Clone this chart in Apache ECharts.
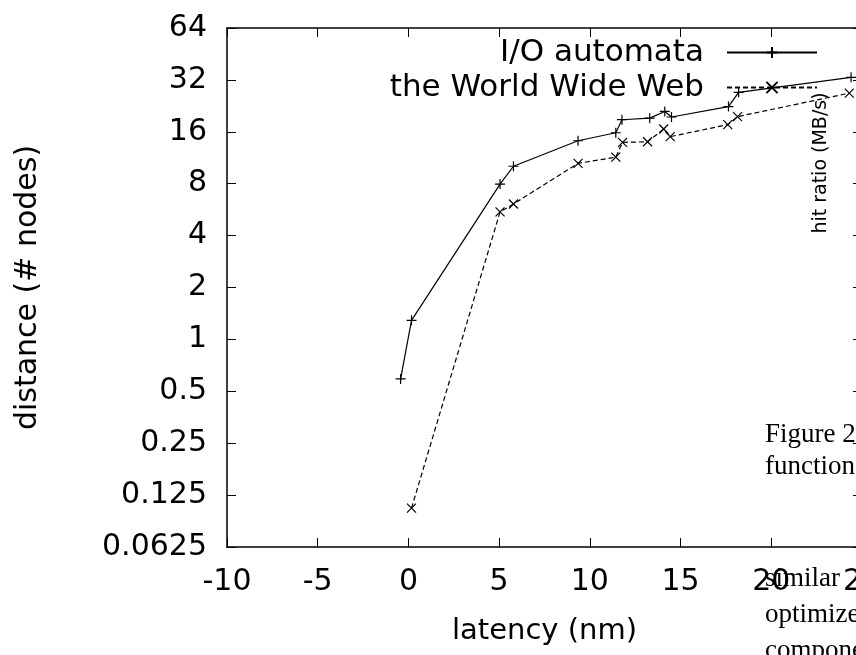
<!DOCTYPE html>
<html>
<head>
<meta charset="utf-8">
<script src="https://cdn.jsdelivr.net/npm/echarts@6/dist/echarts.min.js"></script>
<style>
  html, body { margin: 0; padding: 0; background: #fff; }
  #chart { width: 856px; height: 655px; }
</style>
</head>
<body>
<div id="chart"></div>
<script>
  // data (x = latency, y = distance)
  const seriesNames = ['I/O automata', 'the World Wide Web']
  const xIO = [-0.43, 0.17, 5.05, 5.79, 9.35, 11.43, 11.77, 13.3, 14.13, 14.5, 17.64, 18.2, 24.4]
  const yIO = [0.59, 1.29, 7.96, 10.1, 14.2, 15.8, 18.8, 19.2, 21.0, 19.5, 22.4, 27.1, 33.1]
  const xWWW = [0.17, 5.05, 5.79, 9.35, 11.43, 11.8, 13.18, 14.07, 14.43, 17.6, 18.14, 24.3]
  const yWWW = [0.105, 5.49, 6.1, 10.5, 11.4, 13.9, 14.0, 16.6, 15.0, 17.6, 19.6, 26.8]
  const xTicks = [-10, -5, 0, 5, 10, 15, 20, 25]
  const yTicks = [0.0625, 0.125, 0.25, 0.5, 1, 2, 4, 8, 16, 32, 64]

  const sans = 'DejaVu Sans'
  const plusPath = 'path://M5,0L5,10M0,5L10,5'
  const crossPath = 'path://M0,0L10,10M10,0L0,10'

  const pairs = (xs, ys) => xs.map((x, i) => [x, ys[i]])

  const xBase = {
    type: 'value',
    min: xTicks[0],
    max: xTicks[xTicks.length - 1],
    interval: 5,
    axisLine: { onZero: false, lineStyle: { color: '#000', width: 1.5 } },
    axisTick: { inside: true, length: 9, lineStyle: { color: '#000' } },
    splitLine: { show: false }
  }
  const yBase = {
    type: 'log',
    logBase: 2,
    min: yTicks[0],
    max: yTicks[yTicks.length - 1],
    interval: 1,
    axisLine: { onZero: false, lineStyle: { color: '#000', width: 1.5 } },
    axisTick: { inside: true, length: 9, lineStyle: { color: '#000' } },
    splitLine: { show: false }
  }

  const myChart = echarts.init(document.getElementById('chart'))
  myChart.setOption({
    animation: false,
    backgroundColor: '#fff',
    grid: { left: 227, top: 28, width: 635, height: 519, containLabel: false, outerBoundsMode: 'none' },
    legend: {
      orient: 'vertical',
      align: 'right',
      right: 38,
      top: 35,
      padding: 0,
      itemGap: 0,
      itemWidth: 90,
      itemHeight: 14,
      textStyle: { fontFamily: sans, fontSize: 31, color: '#000', lineHeight: 35, padding: [0, 18, 0, 0] },
      data: seriesNames
    },
    xAxis: [
      Object.assign({}, xBase, {
        position: 'bottom',
        name: 'latency (nm)',
        nameLocation: 'middle',
        nameGap: 70,
        nameTextStyle: { fontFamily: sans, fontSize: 29, color: '#000' },
        axisLabel: { fontFamily: sans, fontSize: 30, color: '#000', margin: 20, showMaxLabel: true }
      }),
      Object.assign({}, xBase, { position: 'top', axisLabel: { show: false } })
    ],
    yAxis: [
      Object.assign({}, yBase, {
        position: 'left',
        name: 'distance (# nodes)',
        nameLocation: 'middle',
        nameGap: 184,
        nameTextStyle: { fontFamily: sans, fontSize: 30, color: '#000' },
        axisLabel: { fontFamily: sans, fontSize: 30, color: '#000', margin: 20, showMinLabel: true, showMaxLabel: true }
      }),
      Object.assign({}, yBase, { position: 'right', axisLabel: { show: false } })
    ],
    series: [
      {
        name: seriesNames[0],
        type: 'line',
        data: pairs(xIO, yIO),
        symbol: plusPath,
        symbolSize: 10,
        showAllSymbol: true,
        itemStyle: { color: '#000', borderColor: '#000', borderWidth: 1.2 },
        lineStyle: { color: '#000', width: 1.2 }
      },
      {
        name: seriesNames[1],
        type: 'line',
        data: pairs(xWWW, yWWW),
        symbol: crossPath,
        symbolSize: 9,
        showAllSymbol: true,
        itemStyle: { color: '#000', borderColor: '#000', borderWidth: 1.2 },
        lineStyle: { color: '#000', width: 1.2, type: [5, 3] }
      }
    ],
    // stray text from the surrounding page that overlaps the figure
    graphic: [
      { type: 'text', x: 821, y: 163, rotation: Math.PI / 2,
        style: { text: 'hit ratio (MB/s)', font: '19px "DejaVu Sans"', fill: '#000', align: 'center', verticalAlign: 'middle' } },
      { type: 'text', x: 765, y: 448,
        style: { text: 'Figure 2', font: '27px "Liberation Serif"', fill: '#000', verticalAlign: 'bottom' } },
      { type: 'text', x: 765, y: 480,
        style: { text: 'function', font: '27px "Liberation Serif"', fill: '#000', verticalAlign: 'bottom' } },
      { type: 'text', x: 765, y: 592,
        style: { text: 'similar', font: '27px "Liberation Serif"', fill: '#000', verticalAlign: 'bottom' } },
      { type: 'text', x: 765, y: 628,
        style: { text: 'optimize', font: '27px "Liberation Serif"', fill: '#000', verticalAlign: 'bottom' } },
      { type: 'text', x: 765, y: 664,
        style: { text: 'components', font: '27px "Liberation Serif"', fill: '#000', verticalAlign: 'bottom' } }
    ]
  })
</script>
</body>
</html>
